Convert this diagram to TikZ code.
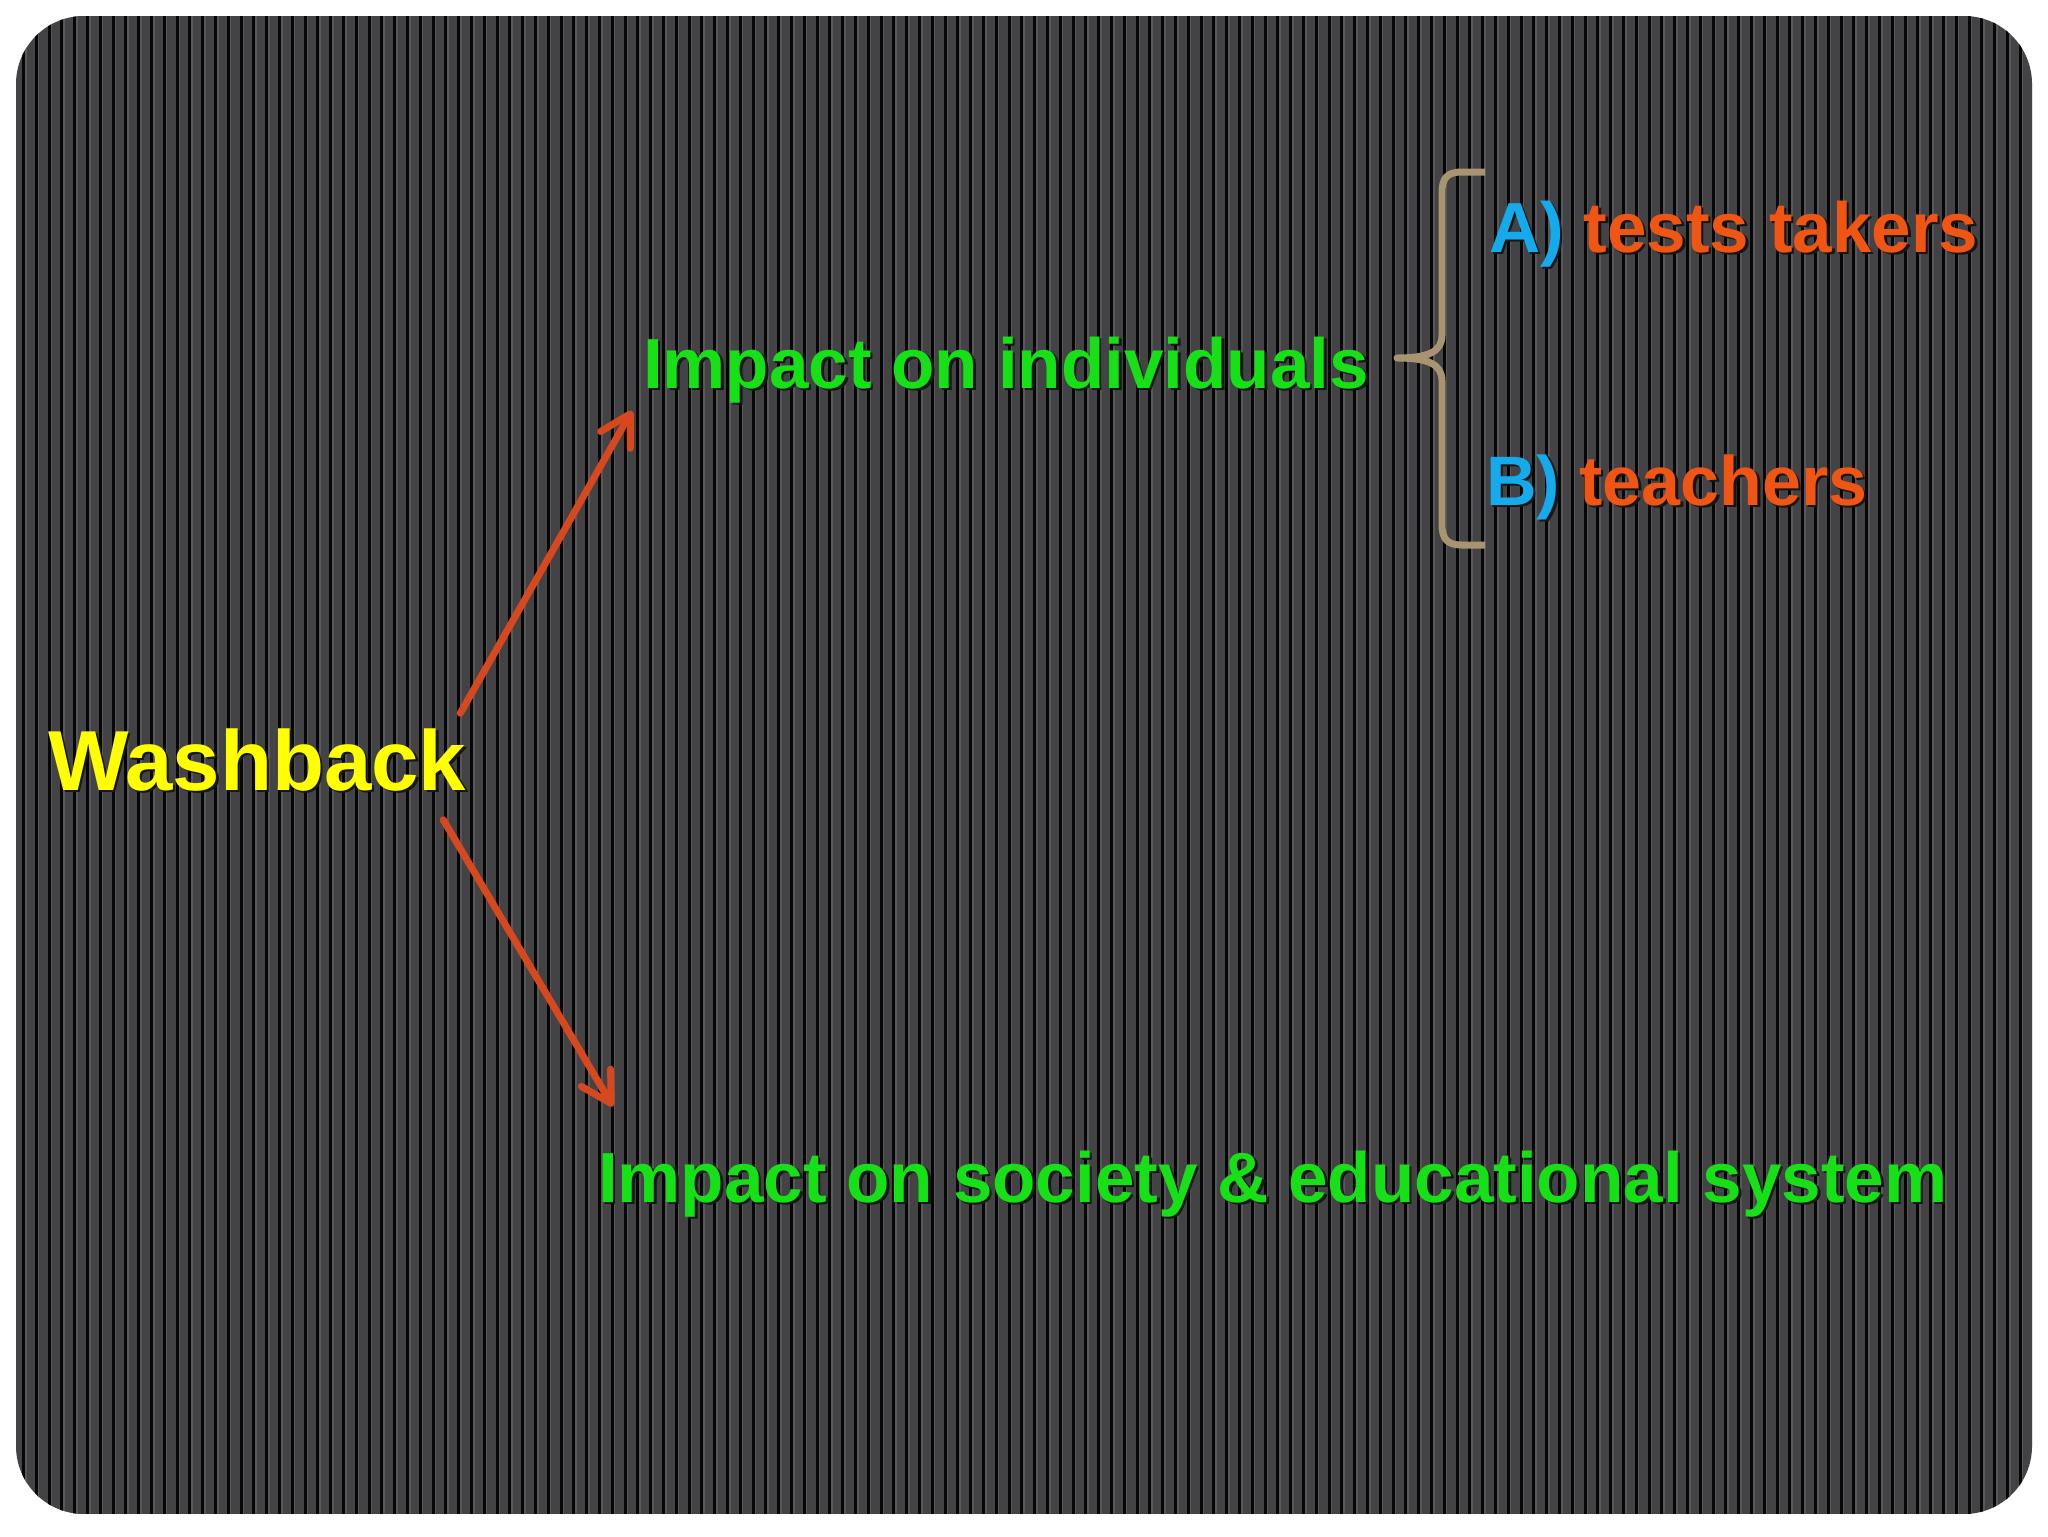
\documentclass[tikz,border=0pt]{standalone}
\usepackage{fontspec}
\setmainfont{Liberation Sans}
\usetikzlibrary{arrows.meta,calc}
\definecolor{bggray}{RGB}{67,67,69}
\definecolor{stripec}{RGB}{6,6,6}
\definecolor{hilite}{RGB}{88,88,90}
\definecolor{washy}{RGB}{255,255,0}
\definecolor{impg}{RGB}{22,224,22}
\definecolor{labb}{RGB}{20,170,235}
\definecolor{itemo}{RGB}{240,85,20}
\definecolor{arrowo}{RGB}{215,72,30}
\definecolor{bracec}{RGB}{168,148,112}
\definecolor{shadowc}{RGB}{22,22,22}
\newcommand{\shd}[2]{\rlap{\smash{\kern1.3pt\raisebox{-1.3pt}{\textcolor{shadowc}{#2}}}}\textcolor{#1}{#2}}
\begin{document}
\begin{tikzpicture}[x=0.5pt,y=-0.5pt,
  every node/.style={inner sep=0pt,outer sep=0pt},
  txt/.style={anchor=base west,font=\bfseries\fontsize{35.5}{40}\selectfont},
  arr/.style={draw=arrowo,line width=3.5pt,line cap=round,
    -{Straight Barb[length=15pt,width=17pt,line cap=round,line join=round]}},
  bracestyle/.style={draw=bracec,line width=3.5pt,line join=round}]
\useasboundingbox (0,0) rectangle (2048,1536);
\fill[white] (0,0) rectangle (2048,1536);
\begin{scope}
  \clip[rounded corners=34pt] (16,16) rectangle (2032,1514);
  \fill[bggray] (16,16) rectangle (2032,1514);
  \foreach \i in {0,...,158} {
    \fill[stripec] ({22+12.8*\i},16) rectangle ({25+12.8*\i},1514);
    \fill[hilite] ({25+12.8*\i},16) rectangle ({26.5+12.8*\i},1514);
  }
\end{scope}
\node[anchor=base west,font=\bfseries\fontsize{42.6}{48}\selectfont] (wash) at (48,790) {\shd{washy}{Washback}};
\node[txt] (ind) at (643,388) {\shd{impg}{Impact on individuals}};
\node[txt] (soc) at (598,1202) {\shd{impg}{Impact on society \& educational system}};
\node[txt] (ta) at (1489,252) {\shd{labb}{A)} \shd{itemo}{tests takers}};
\node[txt,font=\bfseries\fontsize{35}{40}\selectfont] (tb) at (1486,505) {\shd{labb}{B)} \shd{itemo}{teachers}};
\draw[arr] ($(wash.north east)+(-6,-15)$) -- ($(ind.south west)+(-11,8)$);
\draw[arr] ($(wash.south east)+(-23,29)$) -- ($(soc.north west)+(15,-44)$);
\draw[bracestyle] (1485,172) -- (1462,172) .. controls (1447,172) and (1442,178) .. (1442,193)
  -- (1442,335) .. controls (1442,352) and (1428,358) .. (1397,358)
  .. controls (1428,358) and (1442,364) .. (1442,381)
  -- (1442,524) .. controls (1442,539) and (1447,545) .. (1462,545) -- (1485,545);
\end{tikzpicture}
\end{document}
